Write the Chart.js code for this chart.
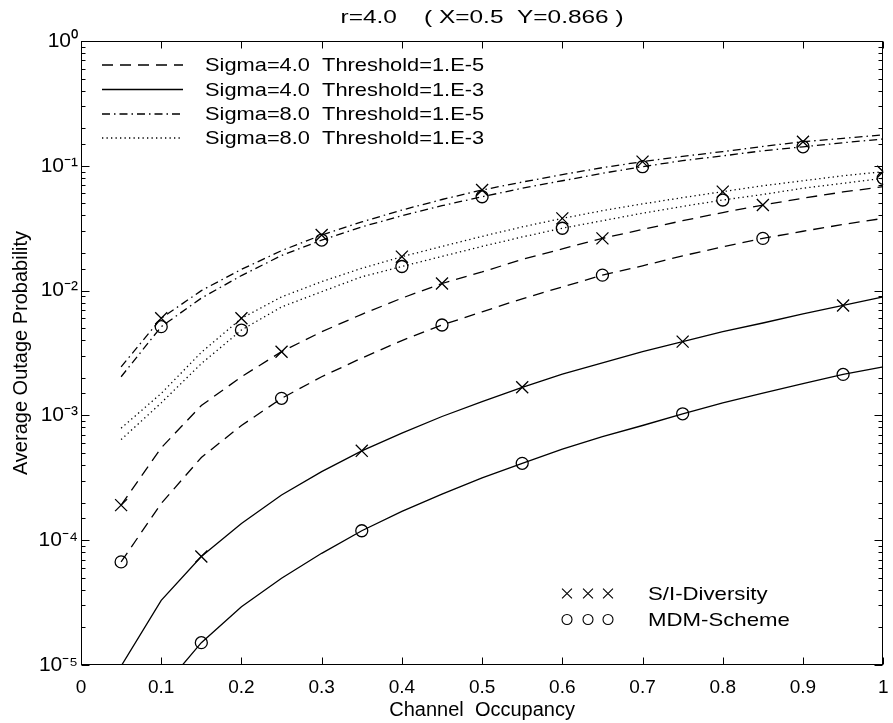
<!DOCTYPE html>
<html><head><meta charset="utf-8">
<script src="https://cdn.jsdelivr.net/npm/chart.js@4.4.0/dist/chart.umd.min.js"></script>
<style>html,body{margin:0;padding:0;background:#fff;}#wrap{width:893px;height:723px;}</style>
</head><body><div id="wrap"><canvas id="c" width="893" height="723"></canvas></div>
<script>
// ---------- data ----------
const occupancy = [0.05,0.10,0.15,0.20,0.25,0.30,0.35,0.40,0.45,0.50,0.55,0.60,0.65,0.70,0.75,0.80,0.85,0.90,0.95,1.00];

const sig4Thr5_SI  = [1.91e-4,5.5e-4,1.2e-3,2.04e-3,3.24e-3,4.68e-3,6.46e-3,8.7e-3,1.14e-2,1.41e-2,1.78e-2,2.16e-2,2.62e-2,3.09e-2,3.63e-2,4.22e-2,4.85e-2,5.5e-2,6.17e-2,6.8e-2];
const sig4Thr5_MDM = [6.7e-5,1.97e-4,4.6e-4,8.3e-4,1.37e-3,2.04e-3,2.88e-3,3.98e-3,5.3e-3,6.76e-3,8.6e-3,1.07e-2,1.33e-2,1.58e-2,1.9e-2,2.24e-2,2.62e-2,2.99e-2,3.39e-2,3.79e-2];
const sig4Thr3_SI  = [9.8e-6,3.3e-5,7.4e-5,1.36e-4,2.3e-4,3.54e-4,5.2e-4,7.2e-4,9.8e-4,1.29e-3,1.68e-3,2.14e-3,2.63e-3,3.24e-3,3.9e-3,4.7e-3,5.5e-3,6.5e-3,7.6e-3,8.9e-3];
const sig4Thr3_MDM = [null,6.3e-6,1.51e-5,2.93e-5,4.95e-5,7.85e-5,1.19e-4,1.7e-4,2.34e-4,3.16e-4,4.13e-4,5.37e-4,6.76e-4,8.3e-4,1.03e-3,1.26e-3,1.51e-3,1.8e-3,2.13e-3,2.45e-3];
const sig8Thr5_SI  = [2.45e-3,6.0e-3,1.0e-2,1.48e-2,2.09e-2,2.79e-2,3.55e-2,4.42e-2,5.37e-2,6.4e-2,7.41e-2,8.51e-2,9.66e-2,0.108,0.119,0.130,0.143,0.156,0.166,0.177];
const sig8Thr5_MDM = [2.04e-3,5.14e-3,8.7e-3,1.32e-2,1.91e-2,2.54e-2,3.24e-2,3.98e-2,4.79e-2,5.65e-2,6.61e-2,7.59e-2,8.71e-2,9.84e-2,0.110,0.120,0.132,0.142,0.153,0.164];
const sig8Thr3_SI  = [7.9e-4,1.5e-3,3.2e-3,6.0e-3,8.9e-3,1.18e-2,1.51e-2,1.87e-2,2.26e-2,2.72e-2,3.24e-2,3.79e-2,4.37e-2,4.95e-2,5.56e-2,6.21e-2,6.92e-2,7.59e-2,8.32e-2,8.97e-2];
const sig8Thr3_MDM = [6.4e-4,1.26e-3,2.6e-3,4.83e-3,7.4e-3,9.8e-3,1.29e-2,1.56e-2,1.88e-2,2.26e-2,2.69e-2,3.16e-2,3.63e-2,4.17e-2,4.73e-2,5.32e-2,5.89e-2,6.61e-2,7.24e-2,7.94e-2];

const markersSig4Thr5 = [0.05,0.25,0.45,0.65,0.85];
const markersSig4Thr3 = [0.15,0.35,0.55,0.75,0.95];
const markersSig8Thr5 = [0.10,0.30,0.50,0.70,0.90];
const markersSig8Thr3 = [0.20,0.40,0.60,0.80,1.00];

const curveLabels = ['Sigma=4.0  Threshold=1.E-5','Sigma=4.0  Threshold=1.E-3','Sigma=8.0  Threshold=1.E-5','Sigma=8.0  Threshold=1.E-3'];
const schemeLabels = ['S/I-Diversity','MDM-Scheme'];
const xTickLabels = ['0','0.1','0.2','0.3','0.4','0.5','0.6','0.7','0.8','0.9','1'];
const yTickLabels = ['10\u207B\u2075','10\u207B\u2074','10\u207B\u00B3','10\u207B\u00B2','10\u207B\u00B9','10\u2070'];
const titleText = 'r=4.0    ( X=0.5  Y=0.866 )';
const xTitle = 'Channel  Occupancy';
const yTitle = 'Average Outage Probability';

// ---------- styles ----------
const FONT = '"Liberation Sans", Arial, Helvetica, sans-serif';
const DASHES = { dashed:[11,7], solid:[], dashdot:[8,4,1.5,4], dotted:[1.3,3.2] };
const LW = 1.3;

function pts(vals){ return occupancy.map((x,i)=>({x:x, y:vals[i]})); }
function mk(list){ return occupancy.map(x => list.some(m => Math.abs(m-x)<1e-9)); }

function ds(label, vals, dash, markers, scheme){
  const flags = mk(markers);
  return {
    label: label, data: pts(vals), borderColor:'#000', borderWidth:LW, borderDash:dash,
    fill:false, tension:0, spanGaps:false,
    pointStyle: scheme==='SI' ? 'crossRot' : 'circle',
    pointRadius: ctx => flags[ctx.dataIndex] ? (scheme==='SI'?8.5:6) : 0,
    pointBorderColor:'#000', pointBackgroundColor:'rgba(0,0,0,0)', pointBorderWidth:1.3,
    pointHoverRadius:0
  };
}

const datasets = [
  ds(curveLabels[0]+' SI',  sig4Thr5_SI,  DASHES.dashed,  markersSig4Thr5, 'SI'),
  ds(curveLabels[0]+' MDM', sig4Thr5_MDM, DASHES.dashed,  markersSig4Thr5, 'MDM'),
  ds(curveLabels[1]+' SI',  sig4Thr3_SI,  DASHES.solid,   markersSig4Thr3, 'SI'),
  ds(curveLabels[1]+' MDM', sig4Thr3_MDM, DASHES.solid,   markersSig4Thr3, 'MDM'),
  ds(curveLabels[2]+' SI',  sig8Thr5_SI,  DASHES.dashdot, markersSig8Thr5, 'SI'),
  ds(curveLabels[2]+' MDM', sig8Thr5_MDM, DASHES.dashdot, markersSig8Thr5, 'MDM'),
  ds(curveLabels[3]+' SI',  sig8Thr3_SI,  DASHES.dotted,  markersSig8Thr3, 'SI'),
  ds(curveLabels[3]+' MDM', sig8Thr3_MDM, DASHES.dotted,  markersSig8Thr3, 'MDM')
];

function stretchText(ctx, txt, x, y, size, sx, align){
  ctx.save();
  ctx.font = size + 'px ' + FONT;
  ctx.fillStyle = '#000';
  ctx.textBaseline = 'middle';
  ctx.textAlign = align || 'left';
  ctx.translate(x, y);
  ctx.scale(sx, 1);
  ctx.fillText(txt, 0, 0);
  ctx.restore();
}

const framePlugin = {
  id: 'frame',
  afterDatasetsDraw(chart){
    const ctx = chart.ctx, a = chart.chartArea, xs = chart.scales.x, ys = chart.scales.y;
    ctx.save();
    ctx.strokeStyle = '#000'; ctx.lineWidth = 1; ctx.setLineDash([]);
    const L = Math.round(a.left)+0.5, R = Math.round(a.right)-0.5, T = Math.round(a.top)+0.5, B = Math.round(a.bottom)-0.5;
    ctx.strokeRect(L, T, R-L, B-T);
    ctx.beginPath();
    xs.ticks.forEach(t => {
      const px = Math.round(xs.getPixelForValue(t.value))+0.5;
      ctx.moveTo(px, B); ctx.lineTo(px, B-7);
      ctx.moveTo(px, T); ctx.lineTo(px, T+7);
    });
    ys.ticks.forEach(t => {
      const e = Math.log10(t.value);
      const major = Math.abs(e-Math.round(e)) < 1e-6;
      const len = major ? 8 : 4;
      const py = Math.round(ys.getPixelForValue(t.value))+0.5;
      ctx.moveTo(L, py); ctx.lineTo(L+len, py);
      ctx.moveTo(R, py); ctx.lineTo(R-len, py);
    });
    ctx.stroke();

    // title
    stretchText(ctx, titleText, (a.left+a.right)/2, 18, 18.5, 1.32, 'center');

    // curve legend (top-left)
    const rowsY = [65, 89.5, 114, 138];
    const dashList = [DASHES.dashed, DASHES.solid, DASHES.dashdot, DASHES.dotted];
    rowsY.forEach((yy, i) => {
      ctx.save();
      ctx.strokeStyle = '#000'; ctx.lineWidth = LW; ctx.setLineDash(dashList[i]);
      ctx.beginPath(); ctx.moveTo(102, yy); ctx.lineTo(183, yy); ctx.stroke();
      ctx.restore();
      stretchText(ctx, curveLabels[i], 205, yy+1, 18.5, 1.18, 'left');
    });

    // scheme legend (bottom-right)
    const mxs = [567, 588, 608];
    const schemeY = [593.5, 619.5];
    ctx.save();
    ctx.strokeStyle = '#000'; ctx.fillStyle = 'rgba(0,0,0,0)'; ctx.lineWidth = 1.1; ctx.setLineDash([]);
    mxs.forEach(mx => {
      Chart.helpers.drawPoint(ctx, {pointStyle:'crossRot', radius:7, rotation:0, borderWidth:1.1}, mx, schemeY[0]);
      Chart.helpers.drawPoint(ctx, {pointStyle:'circle', radius:5, rotation:0, borderWidth:1.1}, mx, schemeY[1]);
    });
    ctx.restore();
    stretchText(ctx, schemeLabels[0], 648, schemeY[0]+1, 18.5, 1.2, 'left');
    stretchText(ctx, schemeLabels[1], 648, schemeY[1]+1, 18.5, 1.2, 'left');
    ctx.restore();
  }
};

new Chart(document.getElementById('c'), {
  type: 'line',
  data: { datasets: datasets },
  options: {
    responsive: false, animation: false, events: [],
    layout: { padding: { top: 41, right: 2, left: 0, bottom: 0 } },
    plugins: { legend: { display: false }, tooltip: { enabled: false }, title: { display: false } },
    scales: {
      x: {
        type: 'linear', min: 0, max: 1,
        grid: { display: false, drawTicks: false },
        border: { display: false },
        ticks: {
          stepSize: 0.1, padding: 11, color: '#000', autoSkip: false, maxRotation: 0,
          font: { family: FONT, size: 19 },
          callback: (v) => { const i = Math.round(v*10); return Math.abs(v*10-i) < 1e-6 ? xTickLabels[i] : ''; }
        },
        title: { display: true, text: xTitle, color: '#000', font: { family: FONT, size: 20 }, padding: { top: 0, bottom: 1 } },
        afterFit: s => { s.height = 58; s.paddingLeft = 0; s.paddingRight = 0; }
      },
      y: {
        type: 'logarithmic', min: 1e-5, max: 1,
        grid: { display: false, drawTicks: false },
        border: { display: false },
        ticks: {
          padding: 3, color: '#000', autoSkip: false,
          font: { family: FONT, size: 21 },
          callback: (v) => { const e = Math.log10(v); const r = Math.round(e); return Math.abs(e-r) < 1e-6 ? yTickLabels[r+5] : ''; }
        },
        title: { display: true, text: yTitle, color: '#000', font: { family: FONT, size: 20 }, padding: { top: 9, bottom: 0 } },
        afterFit: s => { s.width = 81; s.paddingTop = 0; s.paddingBottom = 0; }
      }
    }
  },
  plugins: [framePlugin]
});
</script>
</body></html>
